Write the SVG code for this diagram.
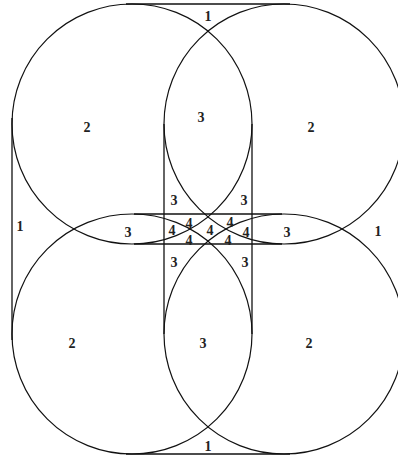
<svg xmlns="http://www.w3.org/2000/svg" width="398" height="458" viewBox="0 0 398 458">
<style>
.c{fill:none;stroke:#111;stroke-width:1.2}
.l{stroke:#111;stroke-width:1.3;fill:none}
text{font-family:"Liberation Serif","Times New Roman",serif;font-weight:bold;font-size:14px;fill:#222;text-anchor:middle}
</style>
<rect width="398" height="458" fill="#fff"/>
<g id="circles">
<circle id="c-tl" class="c" cx="132" cy="124" r="120"/>
<circle id="c-tr" class="c" cx="284" cy="124" r="120"/>
<circle id="c-bl" class="c" cx="132" cy="334" r="120"/>
<circle id="c-br" class="c" cx="284" cy="334" r="120"/>
</g>
<g id="lines">
<line class="l" x1="126" y1="4" x2="290" y2="4"/>
<line class="l" x1="126" y1="454" x2="290" y2="454"/>
<line class="l" x1="12" y1="118" x2="12" y2="340"/>
<line class="l" x1="134" y1="214" x2="282" y2="214"/>
<line class="l" x1="134" y1="244" x2="282" y2="244"/>
<line class="l" x1="164" y1="124" x2="164" y2="334"/>
<line class="l" x1="252" y1="124" x2="252" y2="334"/>
</g>
<g id="labels">
<text x="208" y="21">1</text>
<text x="87" y="132">2</text>
<text x="201" y="122">3</text>
<text x="311" y="132">2</text>
<text x="20" y="231">1</text>
<text x="128" y="237">3</text>
<text x="174" y="205">3</text>
<text x="244" y="205">3</text>
<text x="172" y="235">4</text>
<text x="189" y="228">4</text>
<text x="189" y="245">4</text>
<text x="210" y="235">4</text>
<text x="230" y="227">4</text>
<text x="246" y="237">4</text>
<text x="228" y="245">4</text>
<text x="287" y="237">3</text>
<text x="378" y="236">1</text>
<text x="174" y="267">3</text>
<text x="245" y="267">3</text>
<text x="72" y="348">2</text>
<text x="203" y="348">3</text>
<text x="309" y="348">2</text>
<text x="208" y="451">1</text>
</g>
</svg>
